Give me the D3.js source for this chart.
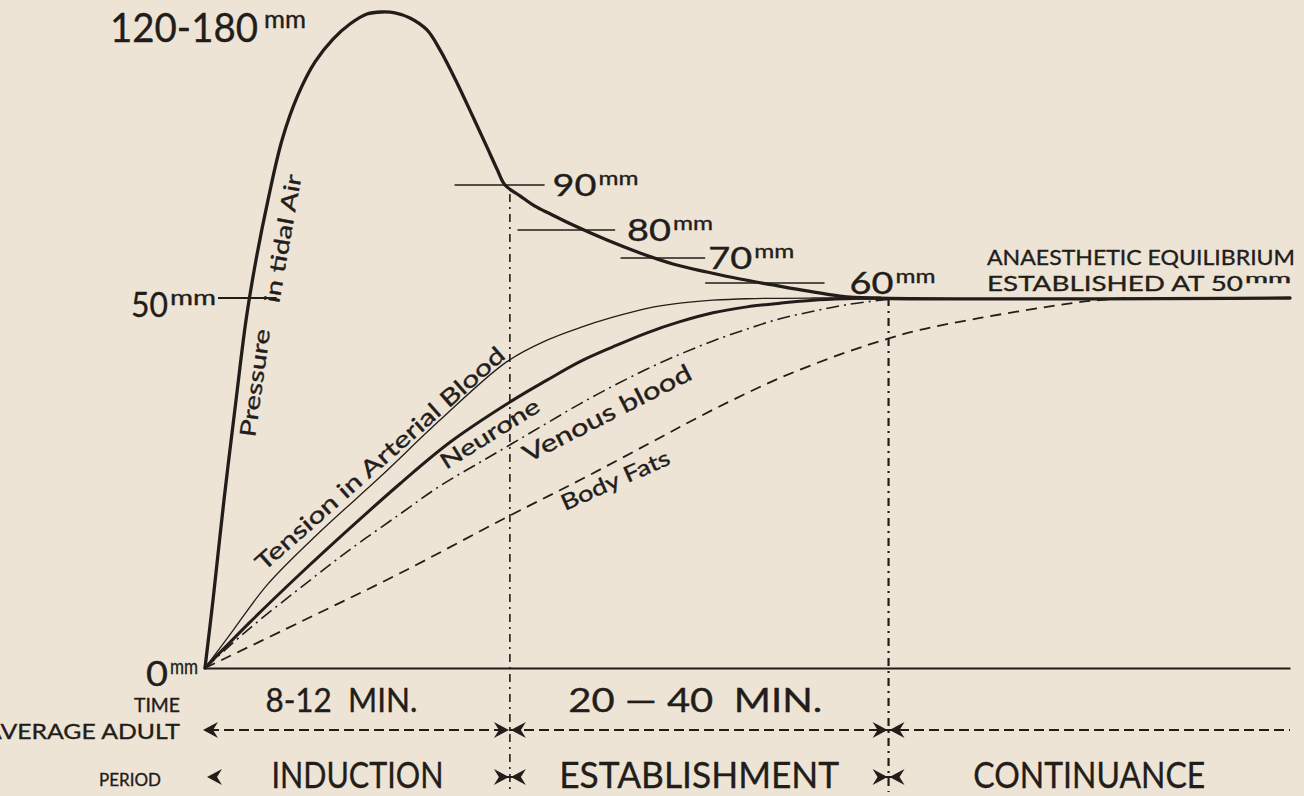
<!DOCTYPE html>
<html>
<head>
<meta charset="utf-8">
<title>Anaesthetic tension curves</title>
<script src="https://cdn.jsdelivr.net/npm/d3@7/dist/d3.min.js"></script>
<style>
  body { margin: 0; background: #ede4d6; }
  svg { display: block; }
  text { font-family: Lato, "Open Sans", sans-serif; fill: #231d1a; stroke: #231d1a; stroke-width: 0.35; }
</style>
</head>
<body>
<svg width="1304" height="796"></svg>
<script>
// time runs 0-100 across the sheet (no real units), tension in mm
var pressureTime = [0, 0.74, 1.75, 2.86, 3.78, 4.7, 5.81, 7.1, 8.57, 10.14, 11.8, 13.36, 14.93, 16.31, 17.51, 18.89, 20.46, 21.66, 23.23, 24.7, 25.99, 26.91, 27.65, 29.03, 30.41, 31.8, 33.92, 37.05, 40.09, 43.13, 46.27, 49.31, 52.35, 55.48, 58.53, 61.29, 100];
var pressureMm = [0, 9.2, 22.7, 36.2, 47.0, 69.2, 86.7, 105.8, 121.6, 133.2, 141.2, 146.5, 150, 150.7, 150.4, 148.6, 144.4, 137.4, 125.8, 113.9, 103.3, 95.6, 90, 87.6, 85.3, 83.6, 81.1, 76.4, 71.8, 67.6, 64.4, 61.6, 58.7, 54.7, 51.3, 50, 50];

var arterialTime = [0, 2.3, 5.71, 10.6, 16.13, 21.66, 27.83, 31.52, 34.56, 37.6, 40.74, 43.78, 46.82, 49.95, 56.04, 62.21];
var arterialMm = [0, 4.5, 11.2, 18.4, 25.8, 33.5, 41.4, 44.3, 46.0, 47.4, 48.6, 49.3, 49.7, 49.9, 50, 50];

var neuroneTime = [0, 4.15, 8.76, 13.36, 17.97, 22.58, 28.39, 31.52, 34.56, 37.6, 40.74, 43.78, 46.82, 49.95, 53.0, 56.04, 59.17, 62.21];
var neuroneMm = [0, 6.2, 12.7, 18.9, 24.9, 30.5, 36.2, 38.9, 41.4, 43.4, 45.3, 46.8, 48.0, 48.8, 49.3, 49.7, 49.9, 50];

var venousTime = [0, 4.15, 8.76, 13.36, 17.97, 21.66, 25.35, 28.39, 31.52, 34.56, 37.6, 40.74, 43.78, 46.82, 49.95, 53.0, 56.04, 59.17, 62.21, 64.06];
var venousMm = [0, 5.4, 10.8, 16.0, 20.8, 24.6, 27.8, 30.4, 33.1, 35.7, 38.1, 40.4, 42.4, 44.2, 45.8, 47.2, 48.2, 49.1, 49.7, 50];

var fatsTime = [0, 8.76, 17.97, 27.83, 34.56, 41.01, 46.82, 53.0, 59.17, 62.95, 65.9, 71.43, 77.6, 81.57, 85.25];
var fatsMm = [0, 6.2, 12.8, 20.4, 25.4, 30.4, 34.9, 39.2, 42.7, 44.5, 45.7, 47.3, 48.8, 49.6, 50];

// falling pressure marks on the tidal air curve
var levelMarks = [90, 80, 70, 60];
var levelFrom = [23.0, 28.8, 38.3, 46.1];
var levelTo = [31.3, 37.8, 46.1, 57.1];

// left hand scale marks
var scaleMarks = [0, 50, 150];
var scaleLabels = ["0", "50", "120-180"];

var phaseEnds = [28.1, 63.0];
var phaseNames = ["INDUCTION", "ESTABLISHMENT", "CONTINUANCE"];
var phaseTimes = ["8-12  MIN.", "20 \u2014 40  MIN.", ""];

var ink = "#231d1a";

var svg = d3.select("svg"),
    width = +svg.attr("width"),
    height = +svg.attr("height");

svg.append("rect").attr("width", width).attr("height", height).attr("fill", "#ede4d6");

var x = d3.scaleLinear().domain([0, 100]).range([205, 1290]);
// the drawing is not to scale: each marked level gets its own stretch
var y = d3.scaleLinear().domain([0, 50, 60, 70, 80, 90, 150]).range([668, 298, 283, 258, 230, 185, 14]);

var line = d3.line()
  .x(function(d) { return x(d[0]); })
  .y(function(d) { return y(d[1]); })
  .curve(d3.curveCatmullRom.alpha(0.5));

// base line
svg.append("g")
  .attr("transform", "translate(0," + y(0) + ")")
  .call(d3.axisBottom(x).tickValues([]).tickSizeOuter(0))
  .call(function(g) {
    g.select(".domain").attr("stroke", ink).attr("stroke-width", 2);
  });

// phase boundaries
var boundaryTop = [88, 50];
phaseEnds.forEach(function(t, i) {
  svg.append("line")
    .attr("x1", x(t)).attr("x2", x(t))
    .attr("y1", y(boundaryTop[i])).attr("y2", 792)
    .attr("stroke", ink)
    .attr("stroke-width", i == 0 ? 1.6 : 2.2)
    .attr("stroke-dasharray", "8,5,2,5");
});

var series = [
  {t: fatsTime, v: fatsMm, w: 1.8, dash: "11,7"},
  {t: venousTime, v: venousMm, w: 1.6, dash: "13,5,2,5"},
  {t: arterialTime, v: arterialMm, w: 1.3, dash: null},
  {t: neuroneTime, v: neuroneMm, w: 3, dash: null},
  {t: pressureTime, v: pressureMm, w: 3.3, dash: null}
];

series.forEach(function(s) {
  svg.append("path")
    .datum(d3.zip(s.t, s.v))
    .attr("d", line)
    .attr("fill", "none")
    .attr("stroke", ink)
    .attr("stroke-width", s.w)
    .attr("stroke-dasharray", s.dash)
    .attr("stroke-linecap", s.dash ? "butt" : "round")
    .attr("stroke-linejoin", "round");
});

// level marks
svg.selectAll(".level")
  .data(levelMarks)
  .enter().append("line")
  .attr("class", "level")
  .attr("x1", function(d, i) { return x(levelFrom[i]); })
  .attr("x2", function(d, i) { return x(levelTo[i]); })
  .attr("y1", function(d) { return y(d); })
  .attr("y2", function(d) { return y(d); })
  .attr("stroke", ink)
  .attr("stroke-width", 1.6);

svg.append("line")
  .attr("x1", x(1.2)).attr("x2", x(6.6))
  .attr("y1", y(50)).attr("y2", y(50))
  .attr("stroke", ink).attr("stroke-width", 1.8);

function label(str, px, py, size, len, anchor, angle) {
  var t = svg.append("text")
    .attr("font-size", size)
    .attr("text-anchor", anchor || "start")
    .text(str);
  if (angle) {
    t.attr("transform", "translate(" + px + "," + py + ") rotate(" + angle + ")");
  } else {
    t.attr("x", px).attr("y", py);
  }
  if (len) t.attr("textLength", len).attr("lengthAdjust", "spacingAndGlyphs");
  return t;
}

// number with a raised "mm"
function mmLabel(num, px, py, size, numLen, mmLen, gap) {
  label(num, px, py, size, numLen);
  label("mm", px + numLen + (gap || 2), py - size * 0.36, size * 0.62, mmLen);
}

var levelGap = [8, 12, 3, 25];
levelMarks.forEach(function(d, i) {
  mmLabel(String(d), x(levelTo[i]) + levelGap[i], y(d) + 11, 30, 44, 40);
});

mmLabel(scaleLabels[2], 110, y(scaleMarks[2]) + 28, 40, 148, 42, 6);
mmLabel(scaleLabels[1], 131, y(scaleMarks[1]) + 19, 34, 37, 46);
mmLabel(scaleLabels[0], 146, y(scaleMarks[0]) + 18, 34, 22, 28);

label("ANAESTHETIC EQUILIBRIUM", 987, 265, 21, 308);
mmLabel("ESTABLISHED AT 50", 987, 291, 21, 256, 46);

// curve names
label("Pressure", 255, 438, 22, 109, "start", -82);
label("in tidal Air", 279, 304, 22, 130, "start", -80);
label("Tension in Arterial Blood", 264, 572, 23, 324, "start", -41.5);
label("Neurone", 446, 470, 22, 113, "start", -32);
label("Venous blood", 528, 463, 24, 186, "start", -27);
label("Body Fats", 565, 511, 22, 117, "start", -24);

// bottom rows
var rowTime = 712, rowAdult = 730, rowPeriod = 777;

label("TIME", 157, rowTime, 19, 46, "middle");
label("AVERAGE ADULT", 180, rowAdult + 9, 21, 195, "end");
label("PERIOD", 130, rowPeriod + 9, 18, 62, "middle");

var bounds = [0].concat(phaseEnds).concat([100]);
var timeLen = [152, 254, 0];
var nameLen = [172, 280, 232];
phaseNames.forEach(function(name, i) {
  var cx = (x(bounds[i]) + x(bounds[i + 1])) / 2;
  if (phaseTimes[i]) label(phaseTimes[i], cx - (i == 0 ? 16 : 4), rowTime, 32, timeLen[i], "middle").style("white-space", "pre");
  label(name, cx, 788, 36, nameLen[i], "middle");
});

function arrowHead(px, py, dir) {
  var b = -dir;
  svg.append("path")
    .attr("d", "M" + px + "," + py +
      "L" + (px + b * 15) + "," + (py - 8) +
      "L" + (px + b * 10) + "," + py +
      "L" + (px + b * 15) + "," + (py + 8) + "Z")
    .attr("fill", ink);
}

// average adult arrows
svg.append("line")
  .attr("x1", x(0) + 4).attr("x2", x(100))
  .attr("y1", rowAdult).attr("y2", rowAdult)
  .attr("stroke", ink).attr("stroke-width", 2.2)
  .attr("stroke-dasharray", "10,5");
arrowHead(x(0) - 2, rowAdult, -1);
phaseEnds.forEach(function(t) {
  arrowHead(x(t) - 1, rowAdult, 1);
  arrowHead(x(t) + 1, rowAdult, -1);
});

// period markers
arrowHead(x(0) + 2, rowPeriod, -1);
phaseEnds.forEach(function(t) {
  arrowHead(x(t) - 1, rowPeriod, 1);
  arrowHead(x(t) + 1, rowPeriod, -1);
  svg.append("line")
    .attr("x1", x(t) - 10).attr("x2", x(t) + 10)
    .attr("y1", rowPeriod).attr("y2", rowPeriod)
    .attr("stroke", ink).attr("stroke-width", 2);
});
</script>
</body>
</html>
